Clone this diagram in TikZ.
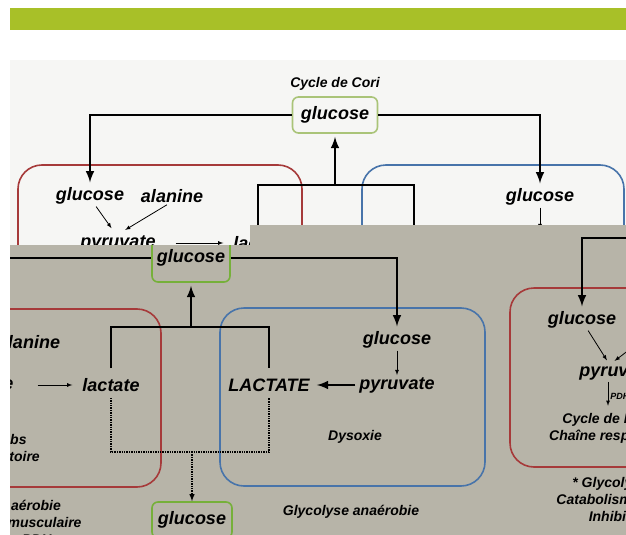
\documentclass[tikz,border=0pt]{standalone}
\usepackage{fontspec}
\setmainfont{Liberation Sans}
\usepackage{tikz}
\usetikzlibrary{positioning,arrows,shapes}

\definecolor{barGreen}{RGB}{168,192,40}
\definecolor{paneGray}{RGB}{183,180,168}
\definecolor{paneWhite}{RGB}{246,246,244}
\definecolor{coriGreen}{RGB}{118,176,58}
\definecolor{paleGreen}{RGB}{170,196,120}
\definecolor{zoneRed}{RGB}{166,58,58}
\definecolor{zoneBlue}{RGB}{72,116,170}

\begin{document}
\begin{tikzpicture}[
		x=1pt, y=-1pt,
		>=latex,
		big/.style={font=\fontsize{18}{20}\selectfont\bfseries\itshape, inner sep=2pt},
		small/.style={font=\fontsize{14}{17}\selectfont\bfseries\itshape, align=center, inner sep=1pt},
		tiny/.style={font=\fontsize{9}{10}\selectfont\bfseries\itshape, inner sep=2pt},
		coribox/.style={big, draw=coriGreen, line width=1.6pt, rounded corners=6pt, minimum width=80, minimum height=36},
		zone/.style={line width=1.6pt, rounded corners=24pt},
		wire/.style={line width=2.8pt},
		link/.style={wire, ->, shorten >=3pt},
		fine/.style={line width=0.8pt, ->},
		dots/.style={line width=1.4pt, densely dotted}
	]
	\useasboundingbox (0,0) rectangle (626,535);
	\fill[white] (0,0) rectangle (626,535);
	\fill[barGreen] (10,8) rectangle (626,30);
	
	% scanned panel, top
	\fill[paneWhite] (10,60) rectangle (626,535);
	\begin{scope}
		\clip (10,60) rectangle (626,535);
		\draw[zone, zoneRed] (18,165) rectangle (302,600);
		\draw[zone, zoneBlue] (362,165) rectangle (624,600);
		
		\node[small] (coriTitle) at (335,84) {Cycle de Cori};
		\node[coribox, draw=paleGreen, minimum width=85] (cori) at (335,115) {glucose};
		\node[big] (glcA) at (90,196) {glucose};
		\node[big] (alaA) at (172,196) {alanine};
		\node[big] (pyrA) at (118,243) {pyruvate};
		\node[big] (lacA) at (262,243) {lactate};
		\node[big] (glcB) at (540,197) {glucose};
		\node[big] (pyrB) at (540,243) {pyruvate};
		\coordinate (brA) at (335,185);
		\coordinate (brAl) at (258,232);
		\coordinate (brAr) at (414,232);
		
		\draw[link] (cori.west) -| (glcA.north);
		\draw[link] (cori.east) -| (glcB.north);
		\draw[wire] (brAl) |- (brA) -| (brAr);
		\draw[link] (brA) -- (cori.south);
		\draw[fine, shorten >=6pt] (glcA.-60) -- ([xshift=-3pt]pyrA.north);
		\draw[fine, shorten >=6pt] (alaA.-120) -- ([xshift=2pt]pyrA.north);
		\draw[fine, shorten <=18pt, shorten >=8pt] (pyrA) -- (lacA);
		\draw[fine, shorten >=4pt] (glcB.south) -- (pyrB.north);
	\end{scope}
	
	% enlarged panel, bottom
	\fill[paneGray] (10,535) -- (10,245) -- (250,245) -- (250,225) -- (626,225) -- (626,535) -- cycle;
	\begin{scope}
		\clip (10,535) -- (10,245) -- (250,245) -- (250,225) -- (626,225) -- (626,535) -- cycle;
		\draw[zone, zoneRed] (-200,309) rectangle (161,487);
		\draw[zone, zoneBlue] (220,308) rectangle (485,486);
		\draw[zone, zoneRed] (510,288) rectangle (800,467);
		
		\node[coribox, minimum width=78, minimum height=48] (glcHub) at (191,258) {glucose};
		\node[big] (alaL) at (29,342) {alanine};
		\node[big] (pyrL) at (-24,385) {pyruvate};
		\node[big] (lacL) at (111,385) {lactate};
		\node[big] (LACT) at (269,385) {LACTATE};
		\node[big] (glcM) at (397,340) {glucose};
		\node[big] (pyrM) at (397,385) {pyruvate};
		\node[small] (dysox) at (355,437) {Dysoxie};
		\node[small] (anaer) at (351,512) {Glycolyse anaérobie};
		\node[small] (krebsL) at (-24,449) {Cycle de Krebs\\Chaîne respiratoire};
		\node[small] (aerL) at (1,522) {Glycolyse aérobie\\Catabolisme musculaire\\Activation PDH};
		\node[coribox] (glcOut) at (192,520) {glucose};
		
		\node[big] (glcR) at (582,320) {glucose};
		\node[big] (alaR) at (662,320) {alanine};
		\node[big] (pyrR) at (617,372) {pyruvate};
		\node[small] (krebsR) at (613,428) {Cycle de Krebs\\Chaîne respiratoire};
		\node[small] (aerR) at (637,499) {* Glycolyse aérobie\\Catabolisme musculaire\\Inhibition PDH};
		
		\coordinate (offL) at (-50,258);
		\coordinate (offR) at (700,238);
		\coordinate (hubB) at (191,327);
		\coordinate (dotB) at (192,452);
		
		\draw[wire] (offL) -- (glcHub.west);
		\draw[link] (glcHub.east) -| (glcM.north);
		\draw[link] (offR) -| (glcR.north);
		\draw[wire, shorten <=8pt, shorten >=8pt] (lacL.north) |- (hubB) -| (LACT.north);
		\draw[link] (hubB) -- (glcHub.south);
		\draw[dots, shorten <=4pt, shorten >=4pt] (lacL.south) |- (dotB) -| (LACT.south);
		\draw[dots, ->] (dotB) -- (glcOut.north);
		
		\draw[fine, shorten <=22pt, shorten >=8pt] (pyrL) -- (lacL);
		\draw[fine] (glcM.south) -- (pyrM.north);
		\draw[link, shorten <=2pt, shorten >=5pt] (pyrM.west) -- (LACT.east);
		\draw[fine, shorten >=2pt] (glcR.-60) -- ([xshift=-9pt]pyrR.north);
		\draw[fine, shorten >=2pt] (alaR.-120) -- ([xshift=-4pt]pyrR.north);
		\draw[fine, shorten >=6pt] ([xshift=-9pt]pyrR.south) -- ([xshift=-5pt]krebsR.north)
			node[tiny, right, midway] {PDH};
	\end{scope}
\end{tikzpicture}
\end{document}
